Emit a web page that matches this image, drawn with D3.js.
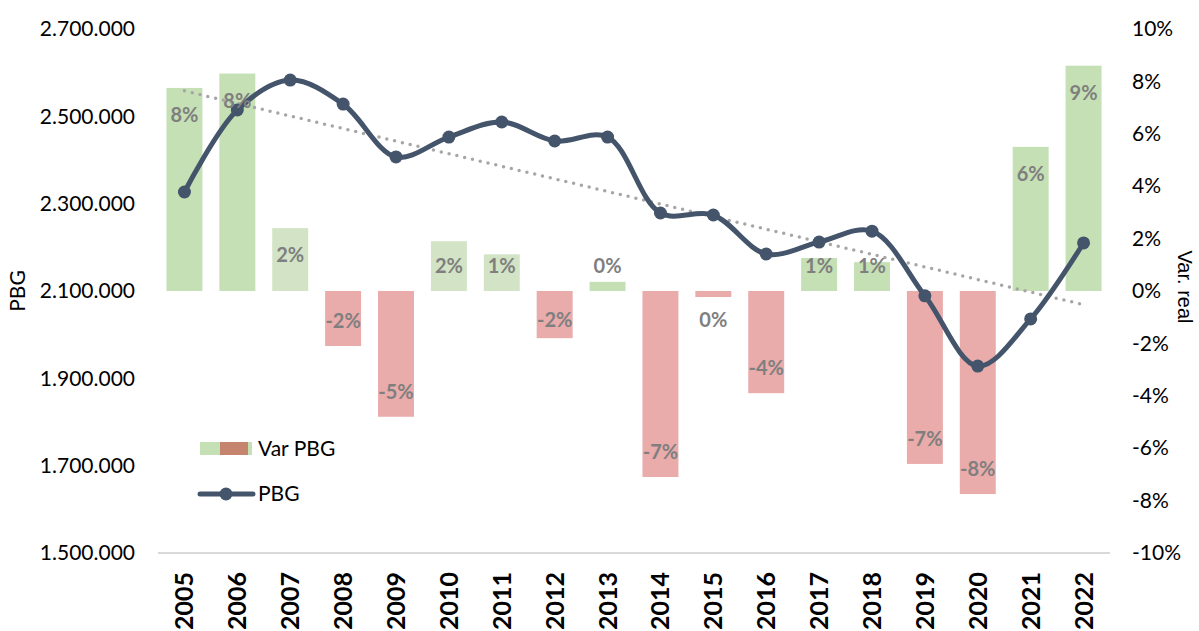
<!DOCTYPE html>
<html lang="es">
<head>
    <meta charset="UTF-8">
    <title>PBG y variación real</title>
    <script src="https://d3js.org/d3.v7.min.js"></script>
    <style>
        body { margin: 0; background: #fff; }
        svg { display: block; }
    </style>
</head>
<body>
    <svg id="chart" width="1199" height="631"></svg>

    <script>
        // data
        const years = ["2005", "2006", "2007", "2008", "2009", "2010", "2011", "2012", "2013",
                       "2014", "2015", "2016", "2017", "2018", "2019", "2020", "2021", "2022"];
        const pbg = [2326700, 2514500, 2583000, 2528000, 2407000, 2452600, 2487000, 2443500, 2452600,
                     2278600, 2274000, 2184700, 2212000, 2237000, 2089000, 1928000, 2036000, 2210000];
        const varReal = [0.0775, 0.083, 0.024, -0.021, -0.048, 0.019, 0.014, -0.018, 0.0035,
                         -0.071, -0.0023, -0.039, 0.0126, 0.011, -0.066, -0.0775, 0.055, 0.086];
        const leftTicks = [1500000, 1700000, 1900000, 2100000, 2300000, 2500000, 2700000];
        const rightTicks = [-0.10, -0.08, -0.06, -0.04, -0.02, 0, 0.02, 0.04, 0.06, 0.08, 0.10];

        const lightYears = new Set(["2007", "2010", "2011"]);

        const svg = d3.select('#chart');
        const margin = { top: 29, right: 89, bottom: 78, left: 158 };
        const W = 1199, H = 631;

        const x = d3.scaleBand()
            .domain(years)
            .range([margin.left, W - margin.right])
            .paddingInner(0.32)
            .paddingOuter(0.16);

        const yLeft = d3.scaleLinear().domain([1500000, 2700000]).range([H - margin.bottom, margin.top]);
        const yRight = d3.scaleLinear().domain([-0.10, 0.10]).range([H - margin.bottom, margin.top]);

        const locale = d3.formatLocale({ decimal: ",", thousands: ".", grouping: [3], currency: ["", ""], minus: "-" });
        const fmtThousands = locale.format(",d");
        const fmtPct = v => locale.format(".0f")(v * 100) + "%";

        const font = "Lato, 'Open Sans', sans-serif";

        // left axis labels
        svg.append('g')
            .attr('transform', `translate(${margin.left},0)`)
            .call(d3.axisLeft(yLeft).tickValues(leftTicks).tickFormat(fmtThousands).tickSize(0).tickPadding(23))
            .call(g => g.select('.domain').remove())
            .selectAll('text')
            .attr('font-family', font)
            .attr('font-size', 21)
            .attr('fill', '#000');

        // right axis labels
        svg.append('g')
            .attr('transform', `translate(${W - margin.right},0)`)
            .call(d3.axisRight(yRight).tickValues(rightTicks).tickFormat(fmtPct).tickSize(0).tickPadding(22))
            .call(g => g.select('.domain').remove())
            .selectAll('text')
            .attr('font-family', font)
            .attr('font-size', 21)
            .attr('fill', '#000');

        // bars
        const zero = yRight(0);
        svg.append('g').selectAll('rect')
            .data(years)
            .enter().append('rect')
            .attr('x', d => x(d))
            .attr('width', x.bandwidth())
            .attr('y', (d, i) => Math.min(yRight(varReal[i]), zero))
            .attr('height', (d, i) => Math.abs(yRight(varReal[i]) - zero))
            .attr('fill', (d, i) => varReal[i] < 0 ? '#eaabab' : (lightYears.has(d) ? '#d2e4c5' : '#c5e0b4'));

        // bottom axis line
        svg.append('line')
            .attr('x1', margin.left)
            .attr('x2', W - margin.right)
            .attr('y1', H - margin.bottom)
            .attr('y2', H - margin.bottom)
            .attr('stroke', '#d9d9d9')
            .attr('stroke-width', 2);

        // year labels
        svg.append('g').selectAll('text')
            .data(years)
            .enter().append('text')
            .attr('transform', d => `translate(${x(d) + x.bandwidth() / 2 + 9},${H - margin.bottom + 19}) rotate(-90)`)
            .attr('text-anchor', 'end')
            .attr('font-family', font)
            .attr('font-weight', 'bold')
            .attr('font-size', 25)
            .attr('fill', '#000')
            .text(d => d);

        // trend line (linear regression of PBG)
        const n = pbg.length;
        const mx = d3.mean(d3.range(n)), my = d3.mean(pbg);
        const slope = d3.sum(d3.range(n), i => (i - mx) * (pbg[i] - my)) / d3.sum(d3.range(n), i => (i - mx) ** 2);
        const icpt = my - slope * mx;
        const cx = i => x(years[i]) + x.bandwidth() / 2;
        svg.append('line')
            .attr('x1', cx(0))
            .attr('y1', yLeft(icpt))
            .attr('x2', cx(n - 1))
            .attr('y2', yLeft(icpt + slope * (n - 1)))
            .attr('stroke', '#a6a6a6')
            .attr('stroke-width', 3.5)
            .attr('stroke-linecap', 'round')
            .attr('stroke-dasharray', '0,8');

        // PBG line
        const line = d3.line()
            .x((d, i) => cx(i))
            .y(d => yLeft(d))
            .curve(d3.curveCatmullRom.alpha(0.5));

        svg.append('path')
            .datum(pbg)
            .attr('d', line)
            .attr('fill', 'none')
            .attr('stroke', '#44546a')
            .attr('stroke-width', 5)
            .attr('stroke-linejoin', 'round');

        svg.append('g').selectAll('circle')
            .data(pbg)
            .enter().append('circle')
            .attr('cx', (d, i) => cx(i))
            .attr('cy', d => yLeft(d))
            .attr('r', 6.5)
            .attr('fill', '#44546a');

        // bar value labels
        svg.append('g').selectAll('text')
            .data(varReal)
            .enter().append('text')
            .attr('x', (d, i) => cx(i))
            .attr('y', d => d >= 0 ? Math.min(yRight(d) + 27, zero - 25) : Math.max(yRight(d) - 25, zero + 29))
            .attr('dy', '0.35em')
            .attr('text-anchor', 'middle')
            .attr('font-family', font)
            .attr('font-weight', 'bold')
            .attr('font-size', 20)
            .attr('fill', '#7f7f7f')
            .text(d => fmtPct(Math.abs(d) < 0.005 ? 0 : d));

        // axis titles
        svg.append('text')
            .attr('transform', `translate(25,${zero}) rotate(-90)`)
            .attr('text-anchor', 'middle')
            .attr('font-family', font)
            .attr('font-size', 21)
            .text('PBG');

        svg.append('text')
            .attr('transform', `translate(1178,${zero - 4}) rotate(90)`)
            .attr('text-anchor', 'middle')
            .attr('font-family', "'Liberation Sans', Arial, sans-serif")
            .attr('font-size', 20)
            .text('Var. real');

        // legend
        const legend = svg.append('g').attr('font-family', font).attr('font-size', 21);
        legend.append('rect').attr('x', 200).attr('y', 442).attr('width', 52).attr('height', 13).attr('fill', '#c5e0b4');
        legend.append('rect').attr('x', 220).attr('y', 442).attr('width', 28).attr('height', 13).attr('fill', '#c5846e');
        legend.append('text').attr('x', 258).attr('y', 449).attr('dy', '0.35em').text('Var PBG');
        legend.append('line').attr('x1', 200).attr('x2', 253).attr('y1', 494).attr('y2', 494)
            .attr('stroke', '#44546a').attr('stroke-width', 5).attr('stroke-linecap', 'round');
        legend.append('circle').attr('cx', 226).attr('cy', 494).attr('r', 6.5).attr('fill', '#44546a');
        legend.append('text').attr('x', 258).attr('y', 494).attr('dy', '0.35em').text('PBG');
    </script>
</body>
</html>
